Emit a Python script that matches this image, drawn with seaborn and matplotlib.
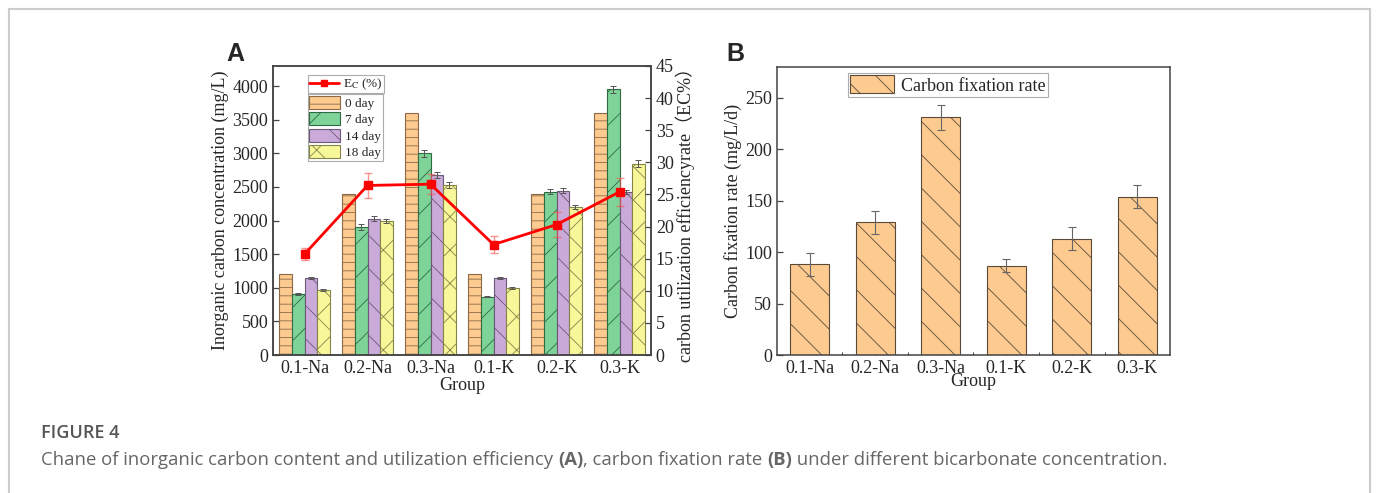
import numpy as np
import pandas as pd
import matplotlib
matplotlib.use("Agg")
import matplotlib.pyplot as plt
from matplotlib.lines import Line2D
from matplotlib.patches import Patch
from matplotlib.ticker import FixedLocator
import seaborn as sns

# data
GROUPS = ["0.1-Na", "0.2-Na", "0.3-Na", "0.1-K", "0.2-K", "0.3-K"]
DAYS = ["0 day", "7 day", "14 day", "18 day"]

IC_DAY0 = [1200, 2400, 3600, 1200, 2400, 3600]
IC_DAY7 = [907, 1905, 3000, 870, 2430, 3955]
IC_DAY14 = [1152, 2030, 2680, 1152, 2445, 2432]
IC_DAY18 = [968, 1996, 2530, 995, 2207, 2845]

ERR_DAY0 = [0, 0, 0, 0, 0, 0]
ERR_DAY7 = [20, 40, 50, 10, 40, 50]
ERR_DAY14 = [15, 40, 40, 15, 40, 30]
ERR_DAY18 = [10, 30, 40, 10, 30, 50]

EC = [15.7, 26.4, 26.6, 17.2, 20.3, 25.4]
EC_ERR = [0.95, 1.9, 1.55, 1.35, 2.0, 2.2]

CFR = [88, 129, 231, 87, 113, 154]
CFR_ERR = [11.3, 11, 12.5, 6, 11, 11]

# styling
FILLS = ["#FDCA8F", "#7DD398", "#C9AAD8", "#F8F79A"]
EDGES = ["#8C6A48", "#2F6A45", "#6C5878", "#85854A"]
HATCHES = ["--", "/", "\\", "x"]

W, H = 1376, 493
FS = 13

sns.set_style("ticks")
plt.rcParams["font.family"] = ["Liberation Serif", "Noto Sans CJK SC", "DejaVu Sans"]
plt.rcParams["mathtext.fontset"] = "stix"
plt.rcParams["hatch.linewidth"] = 0.6
plt.rcParams["axes.edgecolor"] = "#444444"
plt.rcParams["axes.linewidth"] = 1.1
plt.rcParams["xtick.direction"] = "in"
plt.rcParams["ytick.direction"] = "in"

fig = plt.figure(figsize=(W / 100, H / 100), dpi=100)
fig.patch.set_facecolor("white")

# frame round the whole figure (left, top, right)
for xs, ys in [([9, 9], [0, 484]), ([9, 1370], [484, 484]), ([1370, 1370], [0, 484])]:
    fig.add_artist(Line2D(np.array(xs) / W, np.array(ys) / H, color="#cccccc", lw=1.5))

#Panel A - inorganic carbon + Ec
ax = fig.add_axes([273 / W, 1 - 355 / H, 378 / W, 289 / H])

ic = pd.DataFrame({
    "Group": GROUPS * 4,
    "Day": np.repeat(DAYS, len(GROUPS)),
    "IC": IC_DAY0 + IC_DAY7 + IC_DAY14 + IC_DAY18,
})
errs = [ERR_DAY0, ERR_DAY7, ERR_DAY14, ERR_DAY18]

sns.barplot(data=ic, x="Group", y="IC", hue="Day", hue_order=DAYS, order=GROUPS,
            palette=FILLS, saturation=1, width=0.8, errorbar=None, legend=False, ax=ax)

for cont, ec, hatch, err in zip(ax.containers, EDGES, HATCHES, errs):
    xs, ys = [], []
    for bar in cont:
        bar.set_hatch(hatch)
        bar.set_edgecolor(ec)
        bar.set_linewidth(0.8)
        xs.append(bar.get_x() + bar.get_width() / 2)
        ys.append(bar.get_height())
    if max(err) > 0:
        ax.errorbar(xs, ys, yerr=err, fmt="none", ecolor="#555555",
                    elinewidth=0.7, capsize=2, capthick=0.7, zorder=3)

ax.set_xlim(-0.5, 5.5)
ax.set_ylim(0, 4300)
ax.set_yticks(np.arange(0, 4001, 500))
ax.set_xlabel("Group", fontsize=FS, labelpad=0)
ax.set_ylabel("Inorganic carbon concentration (mg/L)", fontsize=FS, labelpad=2)
ax.tick_params(labelsize=FS, length=4, width=0.9, color="#444444")
ax.tick_params(axis="x", length=0)
for s in ax.spines.values():
    s.set_visible(True)

ax2 = ax.twinx()
ax2.errorbar(np.arange(len(GROUPS)), EC, yerr=EC_ERR, color="#ff0000", lw=2,
             marker="s", ms=6, ecolor=(1, 0.3, 0.3, 0.6), elinewidth=1,
             capsize=3, capthick=1, zorder=5)
ax2.set_ylim(0, 45)
ax2.set_yticks(np.arange(0, 46, 5))
ax2.tick_params(labelsize=FS, length=4, width=0.9, color="#444444")
ax2.set_ylabel("carbon utilization efficiencyrate（EC%）", fontsize=FS, labelpad=1)

leg1 = ax2.legend(handles=[Line2D([], [], color="#ff0000", lw=2, marker="s", ms=5)],
                  labels=[r"E$_{\mathrm{C}}$ (%)"], loc="upper left",
                  bbox_to_anchor=(0.092, 0.968), fontsize=9.5, frameon=True,
                  fancybox=False, edgecolor="#999999", handlelength=2.3,
                  borderpad=0.1, borderaxespad=0, handletextpad=0.3)
leg1.get_frame().set_linewidth(0.8)

bar_handles = [Patch(facecolor=f, edgecolor=e, hatch=h, lw=0.8)
               for f, e, h in zip(FILLS, EDGES, HATCHES)]
leg2 = ax2.legend(handles=bar_handles, labels=DAYS, loc="upper left",
                  bbox_to_anchor=(0.092, 0.902), fontsize=9.5, frameon=True,
                  fancybox=False, edgecolor="#999999", handlelength=2.3,
                  handleheight=1.15, labelspacing=0.18, borderpad=0.12,
                  borderaxespad=0, handletextpad=0.4)
leg2.get_frame().set_linewidth(0.8)
ax2.add_artist(leg1)

#Panel B - carbon fixation rate
axb = fig.add_axes([777 / W, 1 - 355 / H, 393 / W, 288 / H])
sns.barplot(x=GROUPS, y=CFR, color=FILLS[0], saturation=1, width=0.6,
            errorbar=None, ax=axb)
for bar in axb.patches:
    bar.set_hatch("\\")
    bar.set_edgecolor("#5a4a3a")
    bar.set_linewidth(0.8)
axb.errorbar(np.arange(len(GROUPS)), CFR, yerr=CFR_ERR, fmt="none", ecolor="#666666",
             elinewidth=0.8, capsize=3, capthick=0.8, zorder=3)
axb.set_xlim(-0.5, 5.5)
axb.set_ylim(0, 280)
axb.set_yticks(np.arange(0, 251, 50))
axb.xaxis.set_minor_locator(FixedLocator(np.arange(0.5, 5, 1)))
axb.tick_params(labelsize=FS, length=4, width=0.9, color="#444444")
axb.tick_params(axis="x", which="minor", length=2)
axb.set_xlabel("Group", fontsize=FS, labelpad=-3)
axb.set_ylabel("Carbon fixation rate (mg/L/d)", fontsize=FS, labelpad=2)
for s in axb.spines.values():
    s.set_visible(True)
legb = axb.legend(handles=[Patch(facecolor=FILLS[0], edgecolor="#5a4a3a", hatch="\\", lw=0.8)],
                  labels=["Carbon fixation rate"], loc="upper left",
                  bbox_to_anchor=(0.18, 0.98), fontsize=FS, frameon=True,
                  fancybox=False, edgecolor="#999999", handlelength=2.4,
                  handleheight=1.15, borderpad=0.15, borderaxespad=0, handletextpad=0.4)
legb.get_frame().set_linewidth(0.8)

# panel letters
fig.text(226 / W, 1 - 61 / H, "A", fontfamily="Liberation Sans", fontweight="bold",
         fontsize=18, va="baseline")
fig.text(726 / W, 1 - 61 / H, "B", fontfamily="Liberation Sans", fontweight="bold",
         fontsize=18, va="baseline")

# caption
fig.text(41 / W, 1 - 438 / H, "FIGURE 4", fontfamily="Open Sans", fontweight="semibold",
         fontsize=13, color="#555555", va="baseline")
parts = [("Chane of inorganic carbon content and utilization efficiency ", "normal"),
         ("(A)", "bold"), (", carbon fixation rate ", "normal"), ("(B)", "bold"),
         (" under different bicarbonate concentration.", "normal")]
fig.canvas.draw()
renderer = fig.canvas.get_renderer()
x = 41
for s, w in parts:
    t = fig.text(x / W, 1 - 465 / H, s, fontfamily="Open Sans", fontweight=w,
                 fontsize=13.3, color="#666666", va="baseline")
    x = t.get_window_extent(renderer).x1

fig.savefig("out.png", dpi=100)
